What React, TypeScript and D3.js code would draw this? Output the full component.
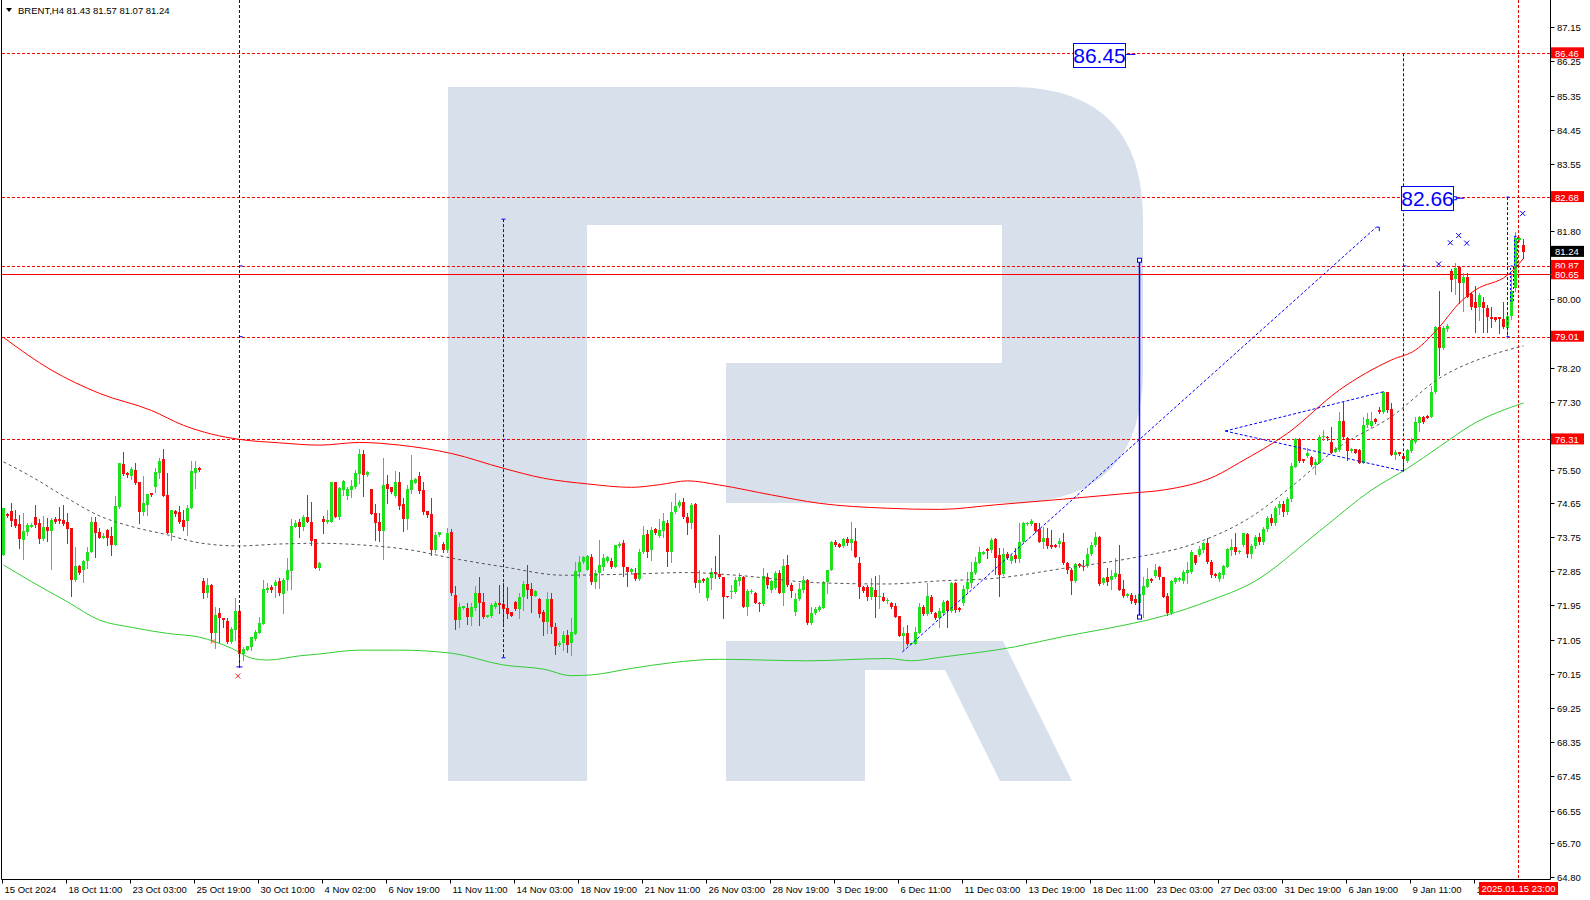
import React from "react";
import * as d3 from "d3";

const opens = [73.27,74.35,74.43,74.23,74.09,73.66,73.88,74.02,74.26,74.10,73.69,74.02,73.90,74.21,74.22,74.19,74.14,73.99,72.61,72.98,72.89,73.11,73.35,74.14,73.88,73.73,73.93,73.77,73.53,74.54,75.66,75.42,75.36,75.51,75.20,74.41,74.59,74.89,75.05,75.42,75.79,74.85,73.86,74.43,74.41,74.19,74.16,74.52,75.44,75.56,72.59,72.28,72.48,71.23,71.74,71.61,71.54,70.98,71.30,71.80,70.67,70.77,70.86,71.07,71.23,71.46,72.35,72.44,72.46,72.60,72.25,72.61,72.86,74.02,74.15,74.02,74.26,74.15,73.69,72.92,74.22,74.15,74.15,75.20,74.26,74.98,74.83,74.98,75.07,75.39,75.93,75.37,75.00,74.37,74.14,73.90,75.14,75.05,74.83,75.20,74.61,74.21,74.98,75.17,75.35,74.98,74.43,74.35,73.39,73.80,73.55,73.39,73.88,72.21,71.56,71.87,71.87,71.65,71.87,72.28,72.03,71.63,71.67,71.91,72.00,71.98,71.87,71.78,72.04,71.85,72.16,72.51,72.37,72.19,72.11,71.76,71.52,72.11,71.39,70.90,70.95,71.17,70.95,71.19,72.82,73.09,72.88,73.23,72.57,72.79,72.96,73.12,73.11,72.96,73.52,73.59,72.96,72.83,72.81,72.64,73.36,73.82,73.39,73.95,73.78,73.91,74.10,73.36,74.41,74.57,74.67,74.28,74.10,74.60,72.53,72.63,72.15,72.66,72.83,72.76,72.68,72.19,72.31,72.31,72.59,72.68,71.91,72.31,72.26,72.02,71.98,72.70,72.35,72.40,72.81,72.28,73.01,72.48,71.78,72.11,72.35,72.61,71.49,71.74,71.82,71.89,72.55,72.88,73.60,73.56,73.51,73.68,73.58,73.65,73.07,72.44,72.42,72.16,72.35,72.16,72.17,72.06,72.02,71.93,71.68,71.15,71.21,70.93,70.93,71.23,71.91,71.72,72.18,71.75,71.61,71.75,72.07,71.81,72.54,71.87,72.00,72.37,72.54,72.81,73.07,73.31,73.42,73.40,73.68,73.27,72.77,73.31,73.11,73.27,73.17,73.62,74.09,74.09,74.10,73.95,73.62,73.73,73.53,73.53,73.56,73.60,73.07,72.89,72.60,73.03,72.98,72.98,73.30,73.53,73.75,72.53,72.68,72.61,72.68,72.77,72.37,72.19,72.22,72.11,72.00,72.22,72.44,72.63,72.72,72.95,72.68,72.19,71.74,72.57,72.61,72.60,72.79,72.83,73.27,73.27,73.40,73.58,73.10,72.77,72.63,72.75,72.96,73.40,73.49,73.35,73.53,73.82,73.30,73.50,73.75,73.60,73.95,74.25,74.10,74.50,74.60,74.40,74.75,75.59,76.31,75.79,75.87,75.86,75.64,75.70,76.37,76.38,76.25,75.99,76.03,76.79,76.34,76.01,76.05,76.03,75.70,76.69,76.66,76.84,77.08,77.04,77.56,77.10,75.90,75.97,75.88,75.75,76.01,76.25,76.75,76.91,76.93,76.89,77.56,79.26,78.70,79.20,80.75,80.52,80.85,80.41,80.57,80.13,79.93,79.80,79.93,79.76,79.54,79.52,79.52,79.47,79.23,79.55,80.30,81.55,81.43];
const highs = [74.50,74.38,74.65,74.45,74.32,74.37,74.10,74.10,74.58,74.23,74.30,74.25,74.25,74.26,74.54,74.59,74.37,73.99,73.49,73.00,73.14,73.49,74.26,74.26,73.97,73.84,73.95,74.02,74.82,75.70,75.98,75.46,75.59,75.68,75.20,75.35,74.87,74.91,75.55,75.81,76.05,75.42,74.45,74.45,74.56,74.45,74.59,75.75,75.75,75.58,72.67,72.67,72.51,71.91,71.87,71.61,71.61,71.39,72.13,71.94,70.86,70.89,71.12,71.30,71.65,72.61,72.54,72.48,72.61,72.66,72.66,73.18,74.21,74.19,74.21,74.32,74.85,74.67,73.69,73.10,74.30,74.45,75.20,75.20,75.07,75.24,75.05,75.24,75.51,76.05,76.03,75.49,75.00,74.61,74.37,75.81,75.37,75.05,75.48,75.46,74.76,75.11,75.90,75.30,75.46,75.20,74.43,74.76,73.88,73.88,73.62,73.97,73.95,72.46,72.00,71.93,72.00,72.00,72.46,72.70,72.26,71.69,72.00,72.07,72.48,72.53,72.44,71.78,72.07,72.28,72.60,73.01,72.54,72.35,72.13,71.83,72.29,72.26,71.49,71.00,71.27,71.30,71.61,73.10,73.24,73.24,73.26,73.30,72.88,73.67,73.31,73.24,73.18,73.53,73.62,73.66,72.96,72.94,72.92,73.42,74.03,73.93,74.02,73.97,74.23,74.38,74.19,74.67,74.89,74.72,74.76,74.38,74.65,74.63,72.88,72.66,72.70,72.92,73.24,73.80,72.70,72.19,72.48,72.70,72.81,72.72,72.37,72.37,72.31,72.04,72.92,72.80,72.62,72.86,72.88,73.16,73.27,72.53,72.28,72.53,72.72,72.63,71.91,71.91,71.95,72.60,72.89,73.65,73.67,73.58,73.71,73.75,74.15,73.97,73.21,72.46,72.48,72.66,72.72,72.75,72.26,72.13,72.04,72.00,71.68,71.39,71.43,70.97,71.39,72.00,71.96,72.53,72.22,71.78,71.87,72.09,72.09,72.57,72.57,71.91,72.48,72.83,73.10,73.23,73.49,73.38,73.45,73.71,73.71,73.45,73.45,73.34,73.31,73.45,74.10,74.15,74.14,74.21,74.12,74.12,74.02,73.97,73.93,73.55,73.71,73.86,73.10,72.92,73.07,73.05,73.14,73.45,73.62,73.88,73.77,72.70,72.92,72.88,73.18,73.53,72.61,72.26,72.26,72.22,72.39,72.68,72.92,72.66,73.03,72.98,72.70,72.26,72.61,72.68,72.68,72.88,73.10,73.40,73.27,73.51,73.62,73.71,73.14,72.79,72.83,73.01,73.45,73.68,73.86,73.40,73.86,73.84,73.55,73.80,73.85,74.00,74.30,74.35,74.55,74.70,74.70,74.80,75.68,76.34,76.34,75.80,76.09,75.87,75.79,76.43,76.56,76.40,76.64,76.12,77.04,77.30,76.38,76.09,76.07,76.05,76.91,77.01,77.04,76.86,77.17,77.59,77.56,77.26,76.03,75.99,75.94,76.05,76.34,76.89,76.93,76.93,76.95,77.71,79.29,80.22,79.29,79.35,80.78,80.96,80.87,80.69,80.68,80.19,80.33,80.15,80.06,79.84,79.80,79.54,79.54,79.93,79.58,80.68,81.77,81.62,81.57];
const lows = [73.27,74.26,74.04,74.02,73.46,73.17,73.80,74.00,74.02,73.58,73.66,73.64,72.90,74.10,74.12,74.06,73.59,72.20,72.60,72.78,72.57,72.92,73.34,73.23,73.71,73.71,73.53,73.27,73.53,74.52,75.37,75.33,75.26,75.15,74.12,74.32,74.32,74.82,74.94,75.29,74.83,73.86,73.66,74.30,74.10,73.93,73.81,74.52,75.02,75.49,72.15,72.18,71.02,70.83,70.95,71.39,70.95,70.95,71.04,70.34,70.51,70.77,70.77,71.04,71.21,71.46,72.31,72.31,72.17,72.22,71.75,72.35,72.37,74.02,73.75,73.93,74.15,73.53,72.92,72.88,73.84,74.12,74.15,74.26,74.21,74.85,74.74,74.80,75.02,75.16,74.83,75.35,74.35,73.66,73.65,73.17,74.65,74.91,74.80,74.47,73.91,73.95,74.89,75.16,74.89,74.35,74.28,73.27,73.36,73.77,73.36,73.36,72.22,71.32,71.37,71.84,71.47,71.43,71.83,71.43,71.61,71.63,71.65,71.87,71.74,71.47,71.61,71.67,71.82,71.61,71.82,72.13,71.76,72.19,71.65,71.17,71.23,71.21,70.67,70.88,70.77,70.73,70.64,71.19,72.70,73.05,72.88,72.51,72.40,72.40,72.88,73.10,72.92,72.95,73.49,72.72,72.46,72.81,72.61,72.61,73.33,73.21,73.14,73.82,73.75,73.75,72.98,73.10,74.38,74.54,74.24,73.82,73.97,72.42,72.31,72.57,72.09,72.39,72.66,72.66,71.62,72.16,72.13,72.28,72.48,71.91,71.69,72.28,72.00,71.81,71.96,72.41,72.31,72.37,72.26,71.96,72.46,72.16,71.69,72.09,72.31,71.47,71.46,71.72,71.80,71.87,72.28,72.88,73.51,73.47,73.49,73.53,73.40,73.21,72.13,72.31,72.09,72.11,71.65,71.87,72.06,72.02,71.89,71.63,71.15,70.77,70.91,70.93,70.93,71.21,71.69,71.69,71.75,71.58,71.39,71.69,71.39,71.78,71.76,71.81,71.96,72.26,72.44,72.77,73.05,73.29,73.18,73.36,72.77,72.19,72.75,73.16,73.07,73.10,73.10,73.58,74.07,74.06,73.88,73.60,73.45,73.45,73.45,73.47,73.49,73.03,72.79,72.25,72.57,72.96,72.88,72.95,73.27,73.51,72.48,72.51,72.48,72.39,72.66,72.35,72.18,72.18,72.02,71.98,71.89,71.65,72.42,72.57,72.70,72.63,72.16,71.69,71.72,72.54,72.59,72.54,72.53,72.81,73.03,73.25,73.36,73.07,72.70,72.70,72.60,72.66,72.95,73.27,73.31,73.33,73.51,73.23,73.20,73.45,73.55,73.55,73.90,74.05,74.05,74.35,74.30,74.35,74.70,75.58,75.72,75.72,75.84,75.61,75.40,75.68,76.30,76.30,75.94,75.97,76.01,76.34,75.77,75.99,75.94,75.68,75.68,76.64,76.63,76.75,77.00,77.01,77.04,75.90,75.79,75.90,75.49,75.72,75.99,76.22,76.54,76.75,76.86,76.89,77.54,78.00,78.68,79.15,80.22,80.13,79.89,79.69,80.06,79.73,79.14,79.45,79.14,79.14,79.27,79.43,79.10,79.23,78.97,79.47,80.20,81.53,81.07];
const closes = [74.50,74.30,74.17,74.04,73.68,73.90,74.05,74.07,74.07,73.69,74.00,73.90,74.19,74.14,74.17,74.09,73.95,72.61,72.99,72.81,73.11,73.35,74.14,73.86,73.73,73.77,73.73,73.53,74.56,75.68,75.39,75.37,75.52,75.17,74.41,74.65,74.87,74.84,75.46,75.75,74.83,73.86,74.45,74.35,74.13,74.02,74.52,75.49,75.57,75.51,72.26,72.49,71.23,71.69,71.61,71.56,70.98,71.33,71.80,70.67,70.81,70.89,71.12,71.26,71.49,72.39,72.40,72.35,72.57,72.26,72.61,72.88,74.03,74.12,74.02,74.28,74.15,73.64,72.92,73.05,74.15,74.19,75.20,74.26,75.02,75.22,75.00,75.08,75.44,75.93,75.37,75.46,74.35,74.12,73.91,75.11,75.00,74.94,75.20,74.56,74.21,75.00,75.24,75.26,74.95,74.41,74.32,73.39,73.80,73.87,73.39,73.86,72.28,71.56,71.91,71.93,71.65,71.91,72.28,72.00,71.65,71.69,71.96,72.00,71.96,71.85,71.72,71.67,71.85,72.18,72.51,72.35,72.19,72.32,71.72,71.52,72.11,71.37,70.88,70.97,71.17,70.90,71.26,72.85,73.09,73.22,73.24,72.57,72.81,73.01,73.18,73.23,72.96,73.53,73.56,72.95,72.83,72.91,72.64,73.36,73.80,73.36,73.93,73.84,73.93,74.17,73.36,74.41,74.57,74.67,74.26,74.10,74.59,72.53,72.61,72.60,72.66,72.83,72.76,72.70,72.18,72.16,72.33,72.61,72.70,71.91,72.33,72.33,72.02,71.98,72.72,72.48,72.59,72.79,72.28,72.98,72.48,72.33,72.11,72.37,72.61,71.49,71.74,71.84,71.91,72.57,72.88,73.60,73.53,73.49,73.68,73.58,73.68,73.21,72.42,72.33,72.18,72.44,72.16,72.20,72.07,72.09,71.91,71.65,71.15,71.23,70.92,70.97,71.26,71.91,71.72,72.19,71.78,71.62,71.81,72.04,71.81,72.54,71.83,71.83,72.39,72.57,72.83,73.10,73.36,73.36,73.38,73.67,73.18,72.75,73.31,73.18,73.25,73.17,73.62,74.12,74.12,74.17,73.91,73.62,73.73,73.51,73.49,73.49,73.65,73.05,72.88,72.60,73.03,72.98,72.95,73.31,73.53,73.75,72.51,72.66,72.57,72.72,72.81,72.35,72.19,72.25,72.07,72.00,72.25,72.46,72.63,72.60,72.89,72.68,72.18,71.74,72.60,72.66,72.66,72.83,72.88,73.36,73.05,73.42,73.58,73.10,72.75,72.72,72.81,72.98,73.42,73.49,73.36,73.38,73.84,73.30,73.50,73.75,73.60,73.95,74.25,74.10,74.50,74.60,74.40,74.75,75.61,76.31,75.75,75.74,75.94,75.64,75.72,76.38,76.40,76.36,75.96,76.05,76.79,76.38,76.01,76.07,75.96,75.70,76.69,76.84,76.79,76.78,77.04,77.56,77.08,75.90,75.99,75.93,75.79,76.03,76.29,76.78,76.91,76.78,76.88,77.56,79.26,78.72,79.23,79.28,80.50,80.81,80.41,80.59,80.06,79.78,79.76,80.11,79.76,79.54,79.47,79.45,79.48,79.26,79.55,80.20,81.60,81.60,81.24];

const timeLabels = ["15 Oct 2024","18 Oct 11:00","23 Oct 03:00","25 Oct 19:00","30 Oct 10:00","4 Nov 02:00","6 Nov 19:00","11 Nov 11:00","14 Nov 03:00","18 Nov 19:00","21 Nov 11:00","26 Nov 03:00","28 Nov 19:00","3 Dec 19:00","6 Dec 11:00","11 Dec 03:00","13 Dec 19:00","18 Dec 11:00","23 Dec 03:00","27 Dec 03:00","31 Dec 19:00","6 Jan 19:00","9 Jan 11:00","1"];
// price ticks; those hidden behind level labels keep only their tick mark
const priceTicks = ["87.15","86.25","85.35","84.45","83.55","82.65","81.80","80.90","80.00","79.10","78.20","77.30","76.40","75.50","74.65","73.75","72.85","71.95","71.05","70.15","69.25","68.35","67.45","66.55","65.70","64.80"];
const hiddenTicks = ["82.65","80.90","79.10","76.40"];

// moving averages sampled at [barIndex, price]
const redMA = [[0,78.99],[12,78.13],[24,77.52],[37,77.07],[45,76.68],[52,76.45],[59,76.31],[69,76.22],[79,76.16],[89,76.23],[99,76.16],[112,75.94],[125,75.55],[135,75.29],[146,75.14],[157,75.05],[164,75.12],[171,75.22],[179,75.11],[192,74.85],[204,74.63],[221,74.50],[234,74.47],[248,74.59],[265,74.74],[282,74.90],[290,74.98],[303,75.35],[309,75.70],[321,76.47],[334,77.61],[347,78.40],[353,78.66],[359,79.27],[364,79.90],[368,80.24],[376,80.63],[379,80.94],[380,81.07]];
const greenMA = [[0,73.01],[7,72.57],[16,72.04],[24,71.56],[32,71.37],[41,71.21],[49,71.11],[57,70.82],[62,70.56],[66,70.51],[74,70.62],[79,70.67],[89,70.77],[99,70.77],[112,70.69],[125,70.38],[135,70.27],[142,70.10],[147,70.12],[157,70.29],[167,70.44],[179,70.53],[201,70.49],[221,70.55],[227,70.49],[234,70.58],[253,70.86],[265,71.13],[275,71.32],[290,71.67],[302,72.09],[312,72.53],[329,73.90],[342,74.98],[351,75.55],[359,76.12],[367,76.69],[380,77.27]];
const greyMA = [[0,75.72],[7,75.33],[16,74.76],[24,74.30],[32,74.02],[41,73.80],[49,73.59],[59,73.51],[69,73.56],[79,73.58],[89,73.54],[102,73.40],[112,73.19],[125,72.96],[140,72.74],[157,72.77],[171,72.81],[183,72.74],[204,72.54],[221,72.51],[234,72.59],[248,72.66],[265,72.92],[282,73.19],[298,73.58],[312,74.28],[322,75.07],[334,76.12],[347,76.91],[359,77.92],[372,78.53],[380,78.77]];

const dashedLevels = [86.46, 82.68, 80.87, 79.01, 76.31];
const solidLevel = 80.65;
const lastPrice = 81.24;

export default function App() {
  const W = 1590, H = 900;
  const right = 1550.5, bottom = 879.5;
  const x = d3.scaleLinear().domain([0, 380]).range([3.5, 1523.5]);
  const y = d3.scaleLinear().domain([86.46, 79.01]).range([53.3, 336.7]);
  const n = closes.length;
  const green = "#1ee01e";
  const red = "#ee1010";
  const blue = "#0000ff";
  const font = "'Liberation Sans', Arial, sans-serif";

  const line = d3.line<number[]>().x(d => x(d[0])).y(d => y(d[1])).curve(d3.curveMonotoneX);

  const candles = [];
  for (let i = 0; i < n; i++) {
    const o = opens[i], c = closes[i];
    const up = c >= o;
    const col = up ? green : red;
    const cx = x(i);
    const top = Math.round(y(Math.max(o, c)));
    const bot = Math.round(y(Math.min(o, c)));
    candles.push(
      <g key={i}>
        <line x1={cx} x2={cx} y1={Math.round(y(highs[i]))} y2={Math.round(y(lows[i])) + 1} stroke={col} strokeWidth={1} />
        <rect x={cx - 1.5} y={top} width={3} height={Math.max(1, bot - top)} fill={col} />
      </g>
    );
  }

  const xMark = (bx: number, p: number, col: string, k: string) => {
    const cx = x(bx), cy = y(p);
    return (
      <g key={k} stroke={col} strokeWidth={1}>
        <line x1={cx - 2.5} y1={cy - 2.5} x2={cx + 2.5} y2={cy + 2.5} />
        <line x1={cx - 2.5} y1={cy + 2.5} x2={cx + 2.5} y2={cy - 2.5} />
      </g>
    );
  };

  const topPrice = y.invert(0);

  return (
    <svg width={W} height={H} style={{ position: "absolute", left: 0, top: 0, background: "#fff" }} fontFamily={font}>
      <rect x={0} y={0} width={W} height={H} fill="#ffffff" />
      {/* watermark */}
      <g fill="#d7e0eb">
        <rect x={448} y={87} width={139} height={694} />
        <path d="M587,87 L1010,87 Q1143,87 1143,220 L1143,370 Q1143,503 1010,503 L726,503 L726,363 L1002,363 L1002,225 L587,225 Z" />
        <path d="M726,641 L1003,641 L1072,781 L1000,781 L945,670 L865,670 L865,781 L726,781 Z" />
      </g>

      {/* horizontal level lines */}
      {dashedLevels.map((v, k) => (
        <line key={"lv" + k} x1={2} x2={right} y1={Math.round(y(v)) + 0.5} y2={Math.round(y(v)) + 0.5} stroke="#ff0000" strokeDasharray="3,2" />
      ))}
      <line x1={2} x2={right} y1={Math.round(y(solidLevel)) + 0.5} y2={Math.round(y(solidLevel)) + 0.5} stroke="#ff0000" />
      {/* time marker */}
      <line x1={x(379) - 1} x2={x(379) - 1} y1={0} y2={bottom} stroke="#dd0000" strokeDasharray="3,2" />

      {/* candles */}
      {candles}

      {/* moving averages */}
      <path d={line(redMA as any) || ""} fill="none" stroke="#ff0000" strokeWidth={1} />
      <path d={line(greenMA as any) || ""} fill="none" stroke="#33cc33" strokeWidth={1} />
      <path d={line(greyMA as any) || ""} fill="none" stroke="#555555" strokeWidth={1} strokeDasharray="3,3" />

      {/* blue analysis objects */}
      <g stroke={blue} strokeWidth={1} fill="none">
        <line x1={x(59)} x2={x(59)} y1={y(topPrice)} y2={y(70.33)} strokeDasharray="3,2" />
        <line x1={x(59) - 3} x2={x(59) + 3} y1={y(70.33)} y2={y(70.33)} />
        <line x1={x(59)} x2={x(59) + 3} y1={y(80.87)} y2={y(80.87)} />
        <line x1={x(59)} x2={x(59) + 3} y1={y(79.01)} y2={y(79.01)} />
        <line x1={x(125)} x2={x(125)} y1={y(82.10)} y2={y(70.57)} strokeDasharray="3,2" />
        <line x1={x(125) - 2} x2={x(125) + 2} y1={y(82.10)} y2={y(82.10)} />
        <line x1={x(125) - 2} x2={x(125) + 2} y1={y(70.57)} y2={y(70.57)} />
        <line x1={x(125)} x2={x(125) + 2} y1={y(76.31)} y2={y(76.31)} />
        <line x1={x(284)} x2={x(284)} y1={y(81.02)} y2={y(71.64)} strokeWidth={1.5} />
        <rect x={x(284) - 2} y={y(81.02) - 2} width={4} height={4} fill="#fff" />
        <rect x={x(284) - 2} y={y(71.64) - 2} width={4} height={4} fill="#fff" />
        <line x1={x(224.7)} y1={y(70.72)} x2={x(343.2)} y2={y(81.89)} strokeDasharray="3,2" />
        <polyline points={`${x(343.2)},${y(81.89)} ${x(343.2) + 3},${y(81.89)} ${x(343.2) + 3},${y(81.89) + 4}`} />
        <line x1={x(305.4)} y1={y(76.53)} x2={x(344.9)} y2={y(77.56)} strokeDasharray="3,2" />
        <line x1={x(305.4)} y1={y(76.53)} x2={x(349.9)} y2={y(75.48)} strokeDasharray="3,2" />
        <line x1={x(350)} x2={x(350)} y1={y(86.46)} y2={y(75.48)} strokeDasharray="3,2" />
        <line x1={x(350)} x2={x(350) + 3} y1={y(80.87)} y2={y(80.87)} />
        <line x1={x(376)} x2={x(376)} y1={y(82.68)} y2={y(79.01)} strokeDasharray="3,2" />
        <line x1={x(376) - 1} x2={x(376) + 2} y1={y(82.68)} y2={y(82.68)} />
        <line x1={x(376) - 1} x2={x(376) + 2} y1={y(79.01)} y2={y(79.01)} />
        <rect x={x(377) - 1} y={y(80.87)} width={3} height={y(79.95) - y(80.87)} strokeDasharray="2,2" />
        <rect x={x(378) - 1} y={y(81.65)} width={3} height={y(80.87) - y(81.65)} strokeDasharray="2,2" />
        <line x1={x(280.5)} x2={x(283)} y1={y(86.43)} y2={y(86.43)} />
        <line x1={x(362.7)} x2={x(365.2)} y1={y(82.65)} y2={y(82.65)} />
      </g>
      <g>
        <rect x={1073.5} y={43.5} width={52} height={24} fill="#ffffff" stroke={blue} />
        <text x={1099.5} y={62.5} textAnchor="middle" fontSize={21} fill={blue}>86.45</text>
        <rect x={1401.5} y={186.5} width={52} height={24} fill="#ffffff" stroke={blue} />
        <text x={1427.5} y={205.5} textAnchor="middle" fontSize={21} fill={blue}>82.66</text>
        <rect x={x(362.7) - 1} y={y(82.65) - 1.5} width={3} height={3} fill="#fff" stroke={blue} />
      </g>
      {xMark(358.8, 80.92, blue, "m1")}
      {xMark(361.7, 81.48, blue, "m2")}
      {xMark(363.8, 81.67, blue, "m3")}
      {xMark(365.8, 81.47, blue, "m4")}
      {xMark(379.8, 82.25, blue, "m5")}
      {xMark(58.6, 70.09, "#ff3030", "m6")}
      {xMark(52.4, 71.0, "#ff6030", "m7")}

      {/* frame */}
      <line x1={1.5} x2={1.5} y1={0} y2={bottom} stroke="#000" />
      <line x1={1.5} x2={right} y1={bottom} y2={bottom} stroke="#000" />
      <line x1={right} x2={right} y1={0} y2={bottom} stroke="#000" />

      {/* header */}
      <path d="M6,8 L12,8 L9,12 Z" fill="#000" />
      <text x={18} y={14} fontSize={9.5} fill="#000">BRENT,H4  81.43 81.57 81.07 81.24</text>

      {/* price axis */}
      {priceTicks.map((t, k) => {
        const yy = Math.round(y(+t)) + 0.5;
        return (
          <g key={"pt" + k}>
            <line x1={right} x2={right + 4} y1={yy} y2={yy} stroke="#000" />
            {hiddenTicks.indexOf(t) < 0 && <text x={1557} y={yy + 3.5} fontSize={9.5} fill="#000">{t}</text>}
          </g>
        );
      })}
      {[...dashedLevels, solidLevel].map((v, k) => {
        const yy = y(v);
        return (
          <g key={"pl" + k}>
            <rect x={1551} y={yy - 6} width={33} height={11} fill="#ff0000" />
            <text x={1555} y={yy + 3.5} fontSize={9.5} fill="#fff">{v.toFixed(2)}</text>
          </g>
        );
      })}
      <g>
        <rect x={1551} y={y(lastPrice) - 6} width={33} height={11} fill="#000" />
        <text x={1555} y={y(lastPrice) + 3.5} fontSize={9.5} fill="#fff">{lastPrice.toFixed(2)}</text>
      </g>

      {/* time axis */}
      {timeLabels.map((t, k) => {
        const xx = Math.round(x(k * 16) - 1.5) + 0.5;
        return (
          <g key={"tl" + k}>
            <line x1={xx} x2={xx} y1={bottom} y2={bottom + 4} stroke="#000" />
            <text x={xx + 2} y={893} fontSize={9.5} fill="#000">{t}</text>
          </g>
        );
      })}
      <rect x={1479} y={882} width={79} height={13} fill="#ff0000" />
      <text x={1518.5} y={892} fontSize={9.5} fill="#fff" textAnchor="middle">2025.01.15 23:00</text>
    </svg>
  );
}
